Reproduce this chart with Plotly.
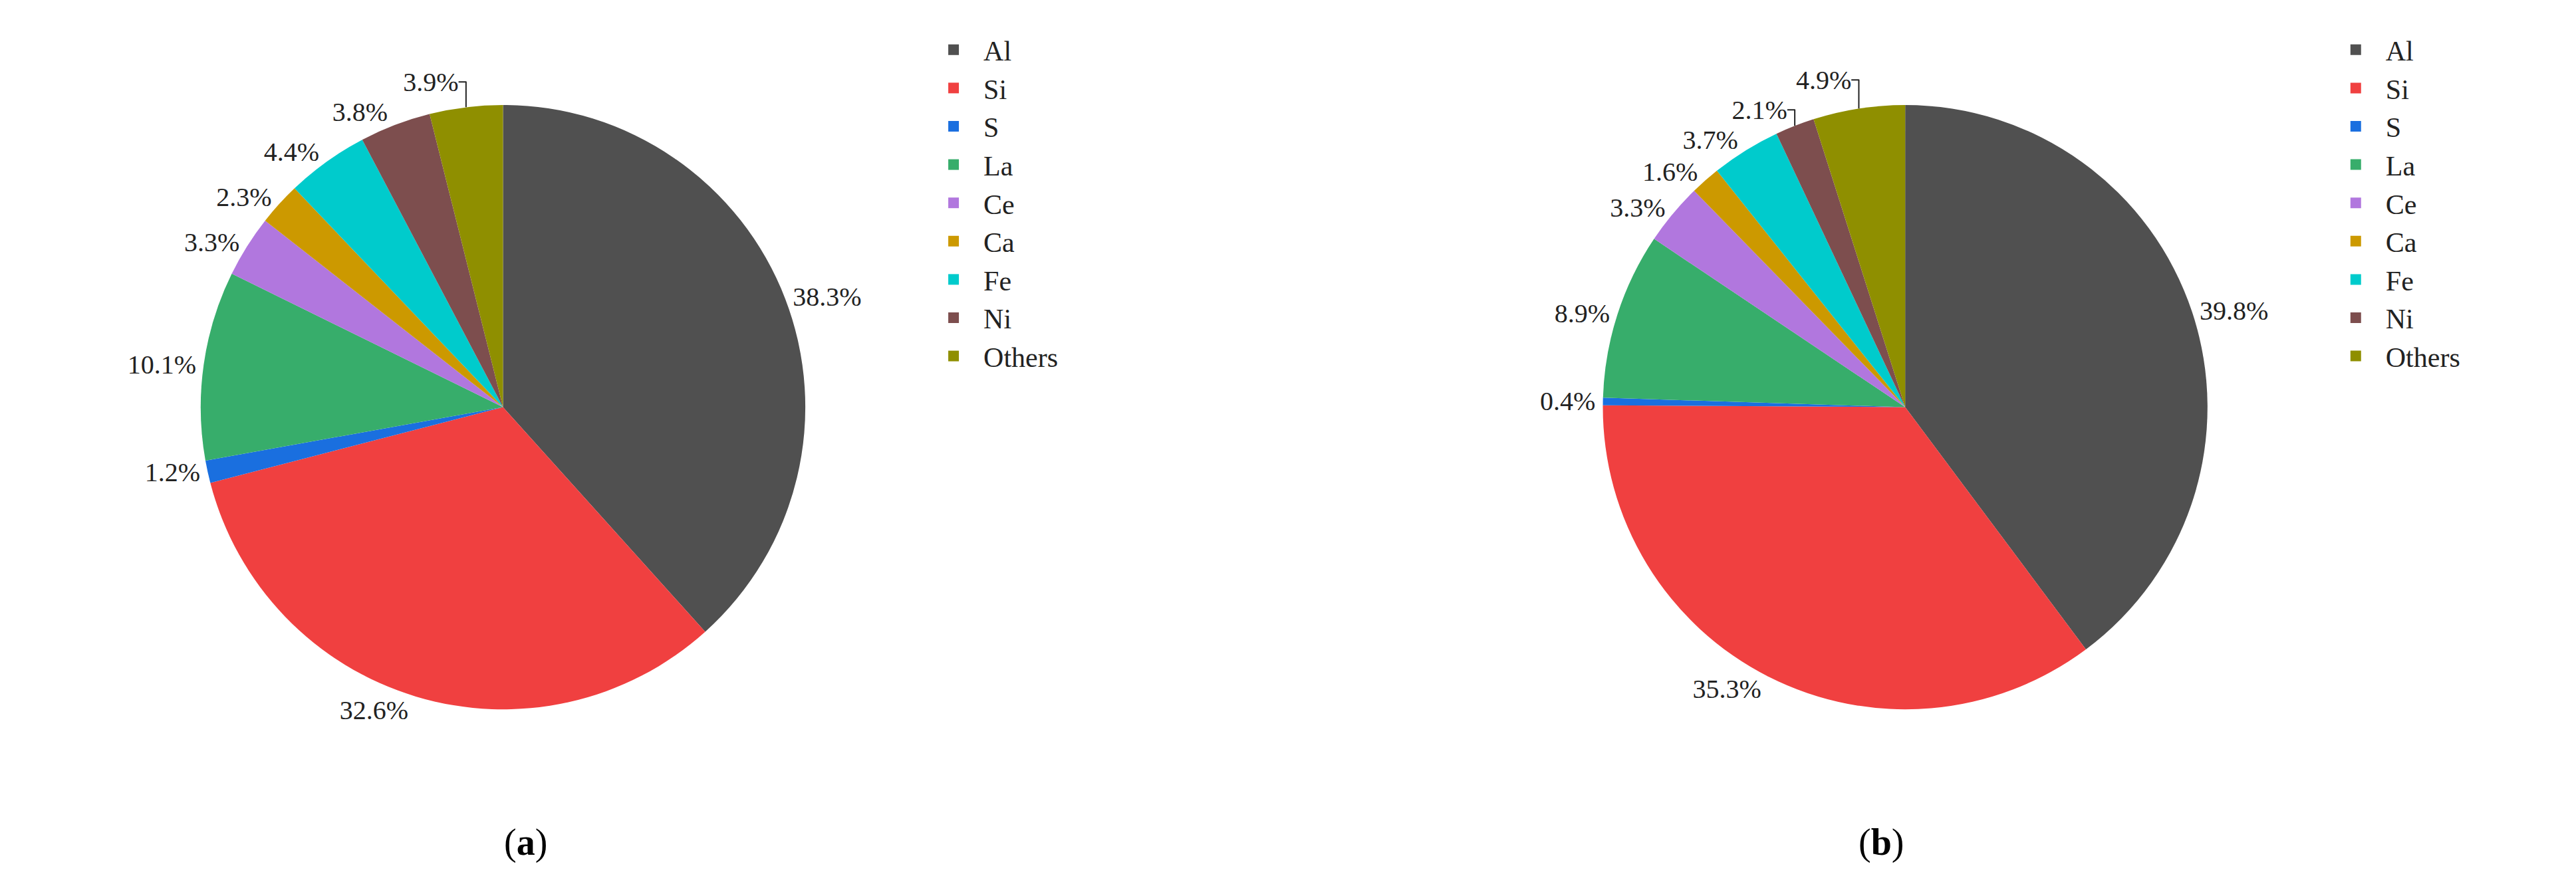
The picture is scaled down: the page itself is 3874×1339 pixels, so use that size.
import plotly.graph_objects as go

labels = ["Al", "Si", "S", "La", "Ce", "Ca", "Fe", "Ni", "Others"]
values_a = [38.3, 32.6, 1.2, 10.1, 3.3, 2.3, 4.4, 3.8, 3.9]
values_b = [39.8, 35.3, 0.4, 8.9, 3.3, 1.6, 3.7, 2.1, 4.9]
colors = ["#505050", "#f04040", "#1a6fdf", "#37ad6b", "#b177de",
          "#cc9900", "#00cbcc", "#7d4e4e", "#8f8f00"]
font = "Liberation Serif"

fig = go.Figure()
for vals, dom in [(values_a, [0.05, 0.33]), (values_b, [0.6, 0.88])]:
    fig.add_trace(go.Pie(
        labels=labels, values=vals, sort=False, direction="clockwise", rotation=0,
        marker=dict(colors=colors), texttemplate="%{value}%", textposition="outside",
        textfont=dict(family=font, size=40, color="#222"),
        domain=dict(x=dom, y=[0.2, 0.9]), showlegend=False,
        hoverinfo="label+value"))

for leg in ["legend", "legend2"]:
    for lab, col in zip(labels, colors):
        fig.add_trace(go.Scatter(
            x=[None], y=[None], mode="markers", name=lab, legend=leg,
            marker=dict(symbol="square", size=36, color=col), showlegend=True))

legstyle = dict(font=dict(family=font, size=42, color="#222"), bgcolor="rgba(0,0,0,0)",
                yanchor="top", y=0.99, xanchor="left", itemsizing="trace",
                itemwidth=80, tracegroupgap=0)
fig.update_layout(
    width=3874, height=1339, paper_bgcolor="white", plot_bgcolor="white",
    margin=dict(l=20, r=20, t=20, b=20),
    xaxis=dict(visible=False), yaxis=dict(visible=False),
    legend=dict(x=0.355, **legstyle),
    legend2=dict(x=0.905, **legstyle),
    annotations=[
        dict(text="(<b>a</b>)", x=0.19, y=0.02, xref="paper", yref="paper", showarrow=False,
             font=dict(family=font, size=56, color="black")),
        dict(text="(<b>b</b>)", x=0.74, y=0.02, xref="paper", yref="paper", showarrow=False,
             font=dict(family=font, size=56, color="black")),
    ],
)
fig.write_html("out.html")
